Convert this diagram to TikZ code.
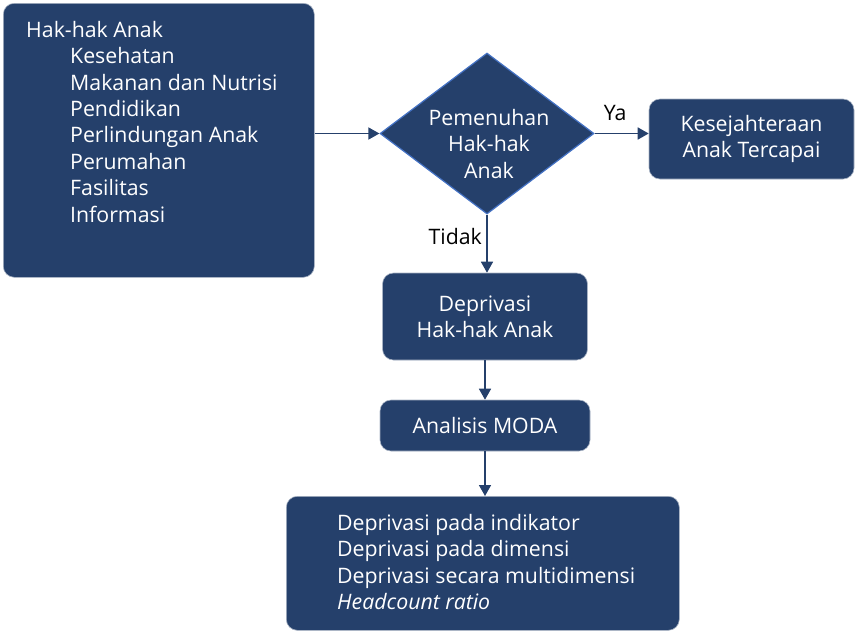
\documentclass[tikz,border=0pt]{standalone}
\usepackage{fontspec}
\setmainfont{Open Sans}
\usetikzlibrary{arrows.meta,shapes.geometric}
\definecolor{navy}{RGB}{37,64,107}
\definecolor{edgeblue}{RGB}{68,114,196}
\newcommand{\ind}{\hspace*{44pt}}

\begin{document}
\begin{tikzpicture}[x=1pt,y=-1pt,font=\fontsize{21.3}{26.4}\selectfont,box/.style={fill=navy,draw=navy!40!white,line width=0.6pt,rounded corners=11pt,text=white,align=center,inner sep=0pt},txt/.style={text=white,align=left,inner sep=0pt},flow/.style={-{Triangle[length=11pt,width=12pt]},line width=1.6pt,draw=navy}]
\useasboundingbox (0,0) rectangle (856,633);
\node[box,anchor=north west,minimum width=311pt,minimum height=274pt] (rights) at (3,3) {};
\node[txt,anchor=north west] (rightslist) at (26,21) {Hak-hak Anak\\\ind Kesehatan\\\ind Makanan dan Nutrisi\\\ind Pendidikan\\\ind Perlindungan Anak\\\ind Perumahan\\\ind Fasilitas\\\ind Informasi};
\node[diamond,aspect=1.33,fill=navy,draw=edgeblue,line width=1.2pt,minimum width=214pt,minimum height=161pt,inner sep=0pt] (fulfil) at (487,133.5) {};
\node[txt,align=center] (fulfiltext) at (489,144) {Pemenuhan\\Hak-hak\\Anak};
\node[box,minimum width=205pt,minimum height=80pt] (welfare) at (751.5,139) {Kesejahteraan\\Anak Tercapai};
\node[box,minimum width=205pt,minimum height=87pt] (depriv) at (485,316.5) {Deprivasi\\Hak-hak Anak};
\node[box,minimum width=210pt,minimum height=51pt] (moda) at (485,425.5) {Analisis MODA};
\node[box,anchor=north west,minimum width=393pt,minimum height=134pt] (result) at (286,496) {};
\node[txt,anchor=west] (resultlist) at (337,562) {Deprivasi pada indikator\\Deprivasi pada dimensi\\Deprivasi secara multidimensi\\\textit{Headcount ratio}};
\draw[flow] (rights.east |- fulfil.west) -- (fulfil.west);
\draw[flow] (fulfil.east) -- node[above=9pt,pos=0.38] {Ya} (fulfil.east -| welfare.west);
\draw[flow] (fulfil.south) -- node[left=1pt,pos=0.38] {Tidak} (fulfil.south |- depriv.north);
\draw[flow] (depriv.south) -- (moda.north);
\draw[flow] (moda.south) -- (moda.south |- result.north);
\end{tikzpicture}
\end{document}
